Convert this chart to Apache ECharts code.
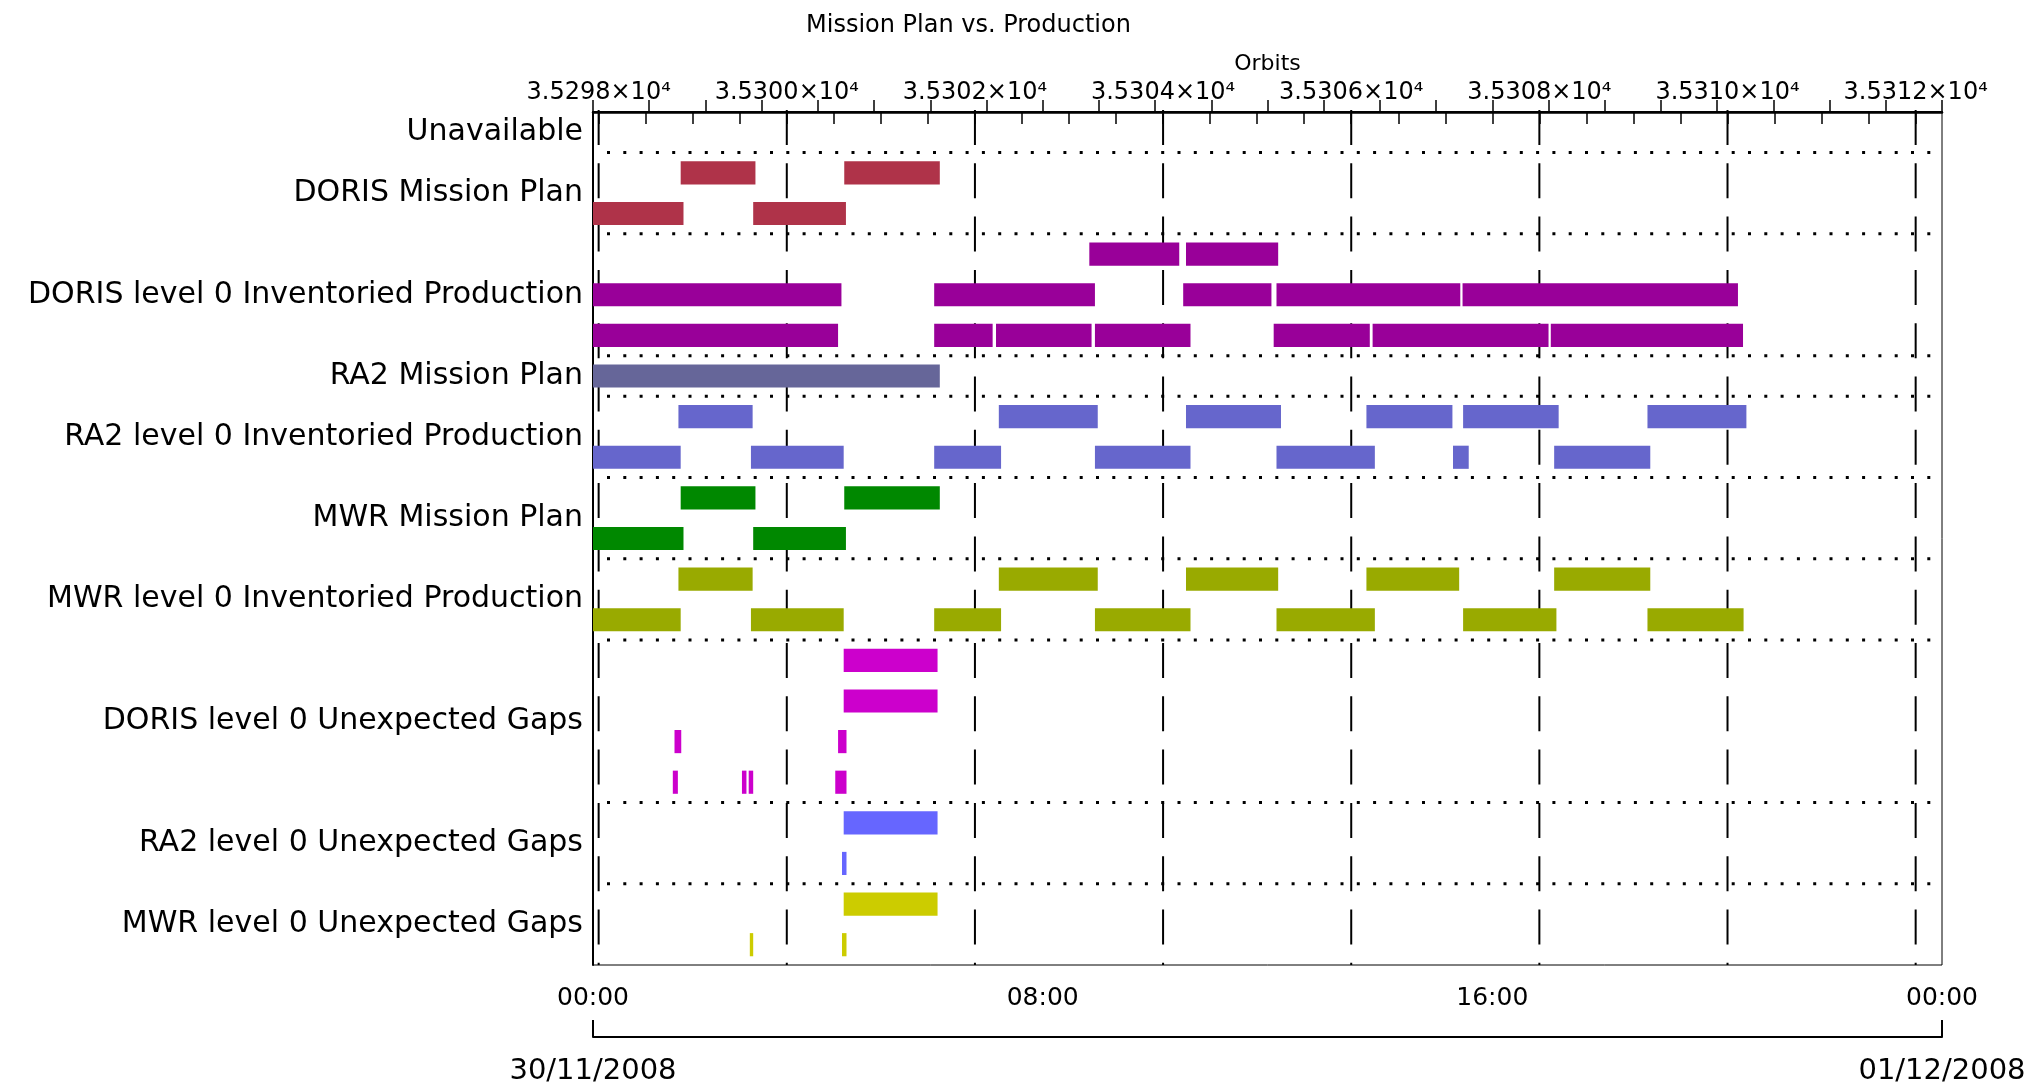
<!DOCTYPE html>
<html>
<head>
<meta charset="utf-8">
<script src="https://cdn.jsdelivr.net/npm/echarts@6/dist/echarts.min.js"></script>
<style>
  html, body { margin: 0; background: #fff; }
  #chart { width: 2038px; height: 1085px; }
</style>
</head>
<body>
<div id="chart"></div>
<script>
// rows of the plot, top to bottom, and how many lanes each one uses
const rowNames = [
  'Unavailable',
  'DORIS Mission Plan',
  'DORIS level 0 Inventoried Production',
  'RA2 Mission Plan',
  'RA2 level 0 Inventoried Production',
  'MWR Mission Plan',
  'MWR level 0 Inventoried Production',
  'DORIS level 0 Unexpected Gaps',
  'RA2 level 0 Unexpected Gaps',
  'MWR level 0 Unexpected Gaps'
];
const rowLanes = [1, 2, 3, 1, 2, 2, 2, 4, 2, 2];
const rowColors = ['#000000', '#AF3349', '#990099', '#666699', '#6666CC',
                   '#008800', '#99AA00', '#CC00CC', '#6666FF', '#CCCC00'];

// [lane in row, start hour, end hour]
const unavailable = [];
const dorisPlan = [[0, 1.56, 2.89], [0, 4.47, 6.17], [1, 0.00, 1.61], [1, 2.85, 4.50]];
const dorisInv = [
  [0, 8.83, 10.43], [0, 10.55, 12.19],
  [1, 0.00, 4.42], [1, 6.07, 8.93], [1, 10.50, 12.07], [1, 12.16, 15.43], [1, 15.47, 20.37],
  [2, 0.00, 4.36], [2, 6.07, 7.11], [2, 7.17, 8.87], [2, 8.93, 10.63], [2, 12.11, 13.82],
  [2, 13.87, 17.00], [2, 17.04, 20.46]
];
const ra2Plan = [[0, 0.00, 6.17]];
const ra2Inv = [
  [0, 1.52, 2.84], [0, 7.22, 8.98], [0, 10.55, 12.24], [0, 13.76, 15.29], [0, 15.48, 17.18], [0, 18.76, 20.52],
  [1, 0.00, 1.56], [1, 2.81, 4.46], [1, 6.07, 7.26], [1, 8.93, 10.63], [1, 12.16, 13.91], [1, 15.30, 15.58],
  [1, 17.10, 18.81]
];
const mwrPlan = [[0, 1.56, 2.89], [0, 4.47, 6.17], [1, 0.00, 1.61], [1, 2.85, 4.50]];
const mwrInv = [
  [0, 1.52, 2.84], [0, 7.22, 8.98], [0, 10.55, 12.19], [0, 13.76, 15.41], [0, 17.10, 18.81],
  [1, 0.00, 1.56], [1, 2.81, 4.46], [1, 6.07, 7.26], [1, 8.93, 10.63], [1, 12.16, 13.91], [1, 15.48, 17.14],
  [1, 18.76, 20.47]
];
const dorisGaps = [
  [0, 4.46, 6.13], [1, 4.46, 6.13],
  [2, 1.45, 1.57], [2, 4.36, 4.51],
  [3, 1.42, 1.51], [3, 2.65, 2.73], [3, 2.77, 2.85], [3, 4.31, 4.51]
];
const ra2Gaps = [[0, 4.46, 6.13], [1, 4.43, 4.51]];
const mwrGaps = [[0, 4.46, 6.13], [1, 2.79, 2.85], [1, 4.43, 4.51]];

const rowData = [unavailable, dorisPlan, dorisInv, ra2Plan, ra2Inv,
                 mwrPlan, mwrInv, dorisGaps, ra2Gaps, mwrGaps];

// axes
const hourLabels = [0, 8, 16, 24];
const dateLabels = ['30/11/2008', '01/12/2008'];
const orbitMin = 35297.94;
const orbitMax = 35312.28;
const orbitLabels = [35298, 35300, 35302, 35304, 35306, 35308, 35310, 35312];

let orbitMinor = [];
for (let o = orbitLabels[0]; o <= orbitLabels[orbitLabels.length - 1]; o += 0.5) orbitMinor.push(o);

let laneStart = [];
let totalLanes = 0;
rowLanes.forEach((n) => { laneStart.push(totalLanes); totalLanes += n; });
const rowCenters = rowLanes.map((n, i) => laneStart[i] + n / 2);
const separators = laneStart.slice(1);

const font = 'DejaVu Sans';
const chart = echarts.init(document.getElementById('chart'));

const barSeries = rowData.map((items, i) => ({
  type: 'custom',
  name: rowNames[i],
  xAxisIndex: 0,
  yAxisIndex: 0,
  z: 5,
  data: items.map((d) => [d[1], d[2], laneStart[i] + d[0]]),
  encode: { x: [0, 1], y: 2 },
  renderItem: (params, api) => {
    const p0 = api.coord([api.value(0), api.value(2) + 0.5]);
    const p1 = api.coord([api.value(1), api.value(2) + 0.5]);
    const h = api.size([0, 1])[1] * 0.57;
    return {
      type: 'rect',
      shape: { x: p0[0], y: p0[1] - h / 2, width: Math.max(p1[0] - p0[0], 3), height: h },
      style: { fill: rowColors[i] }
    };
  }
}));

chart.setOption({
  animation: false,
  title: {
    text: 'Mission Plan vs. Production',
    left: 806,
    top: 14,
    padding: 0,
    textStyle: { fontFamily: font, fontSize: 24, fontWeight: 'normal', color: '#000' }
  },
  grid: {
    left: 593, right: 96, top: 112, bottom: 120,
    outerBoundsMode: 'none',
    show: true, borderColor: '#000', borderWidth: 1
  },
  xAxis: [
    {
      type: 'value', min: 0, max: 24, interval: 1, position: 'bottom',
      axisLine: { lineStyle: { color: '#000', width: 2 } },
      axisTick: { inside: true, length: 12, lineStyle: { color: '#000', width: 1.5 } },
      axisLabel: {
        customValues: hourLabels,
        margin: 21,
        fontFamily: font, fontSize: 25, color: '#000',
        formatter: (v) => String(v % 24).padStart(2, '0') + ':00'
      },
      splitLine: { show: false }
    },
    {
      type: 'value', min: orbitMin, max: orbitMax, position: 'top',
      name: 'Orbits', nameLocation: 'middle', nameGap: 37,
      nameTextStyle: { fontFamily: font, fontSize: 22, color: '#000' },
      axisLine: { lineStyle: { color: '#000', width: 2.5 } },
      axisTick: { inside: true, length: 12, customValues: orbitMinor, lineStyle: { color: '#000', width: 1.5 } },
      axisLabel: {
        customValues: orbitLabels,
        margin: 7,
        fontFamily: font, fontSize: 24, color: '#000',
        formatter: (v) => (v / 10000).toFixed(4) + '×10⁴'
      },
      splitLine: { show: false }
    },
    {
      type: 'value', min: 0, max: 24, position: 'bottom', offset: 72,
      axisLine: { lineStyle: { color: '#000', width: 2 } },
      axisTick: { inside: true, length: 17, customValues: [0, 24], lineStyle: { color: '#000', width: 2 } },
      axisLabel: {
        customValues: [0, 24],
        margin: 20,
        fontFamily: font, fontSize: 29, color: '#000',
        formatter: (v) => (v === 0 ? dateLabels[0] : dateLabels[1])
      },
      splitLine: { show: false }
    }
  ],
  yAxis: {
    type: 'value', min: 0, max: totalLanes, inverse: true,
    axisLine: { show: true, lineStyle: { color: '#000', width: 2 } },
    axisTick: { show: false },
    splitLine: { show: false },
    axisLabel: {
      customValues: rowCenters,
      margin: 10,
      fontFamily: font, fontSize: 30, color: '#000',
      formatter: (v) => rowNames[rowCenters.indexOf(v)]
    }
  },
  series: [
    {
      type: 'custom',
      xAxisIndex: 0, yAxisIndex: 0, z: 1,
      data: separators.map((v) => [0, v]),
      encode: { x: 0, y: 1 },
      renderItem: (params, api) => {
        const a = api.coord([0, api.value(1)]);
        const b = api.coord([24, api.value(1)]);
        return {
          type: 'line',
          shape: { x1: a[0], y1: a[1], x2: b[0], y2: b[1] },
          style: { stroke: '#000', lineWidth: 3, lineDash: [3, 13.3], lineDashOffset: -14 }
        };
      }
    },
    {
      type: 'custom',
      xAxisIndex: 1, yAxisIndex: 0, z: 2,
      data: orbitLabels.map((v) => [v, 0]),
      encode: { x: 0, y: 1 },
      renderItem: (params, api) => {
        const a = api.coord([api.value(0), 0]);
        const b = api.coord([api.value(0), totalLanes]);
        return {
          type: 'line',
          shape: { x1: a[0], y1: a[1] - 2, x2: b[0], y2: b[1] },
          style: { stroke: '#000', lineWidth: 2, lineDash: [35, 18.3] }
        };
      }
    }
  ].concat(barSeries)
});
</script>
</body>
</html>
